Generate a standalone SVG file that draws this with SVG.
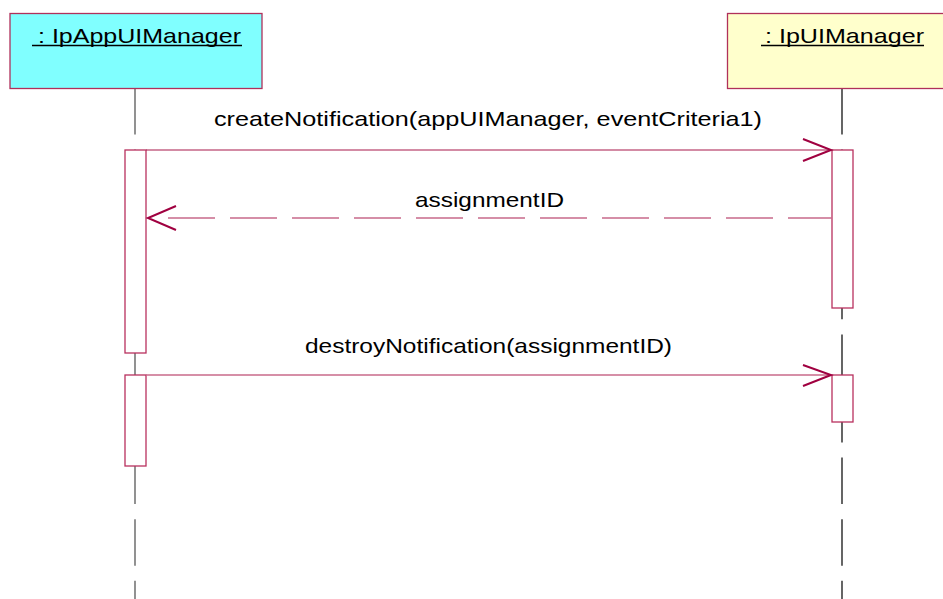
<svg xmlns="http://www.w3.org/2000/svg" width="943" height="599" viewBox="0 0 943 599">
<style>
text{font-family:"Liberation Sans",Arial,sans-serif;font-size:21px;fill:#000}
.obj{stroke:#B0305A;stroke-width:1.3}
.life{fill:none;stroke-dasharray:46.5 15.1}
.act{fill:#fff;stroke:#B8305E;stroke-width:1.3}
.msg{fill:none;stroke:#A8184A;stroke-width:1.2}
.msg2{fill:none;stroke:#C86A8A;stroke-width:1.4}
.head{fill:none;stroke:#A00040;stroke-width:2}
.ul{stroke:#000;stroke-width:1.6}
</style>
<rect width="943" height="599" fill="#fff"/>
<g id="lifelines">
<line class="life" x1="135" y1="88" x2="135" y2="599" stroke="#777" stroke-width="1.6"/>
<line class="life" x1="842" y1="88" x2="842" y2="599" stroke="#000" stroke-width="1.2"/>
</g>
<g id="IpAppUIManager">
<rect class="obj" x="10" y="13.5" width="252" height="75" fill="#80FFFF"/>
<text x="38" y="42.5" textLength="203" lengthAdjust="spacingAndGlyphs">: IpAppUIManager</text>
<line class="ul" x1="32" y1="45.5" x2="242" y2="45.5"/>
<rect class="act" x="125" y="150" width="21" height="203"/>
<rect class="act" x="125" y="375" width="21" height="91"/>
</g>
<g id="IpUIManager">
<rect class="obj" x="727.5" y="13.5" width="230" height="75" fill="#FFFFCC"/>
<text x="765" y="42.5" textLength="159" lengthAdjust="spacingAndGlyphs">: IpUIManager</text>
<line class="ul" x1="761" y1="45.5" x2="924" y2="45.5"/>
<rect class="act" x="832" y="150" width="21" height="158"/>
<rect class="act" x="832" y="375" width="21" height="47"/>
</g>
<g id="connectors">
<line class="msg" x1="146" y1="150" x2="831" y2="150"/>
<polyline class="head" points="803,139 831,150 803,161"/>
<text x="214" y="126" textLength="548" lengthAdjust="spacingAndGlyphs">createNotification(appUIManager, eventCriteria1)</text>
<line class="msg2" x1="168" y1="218" x2="832" y2="218" stroke-dasharray="47 15"/>
<polyline class="head" points="176,206 148,218 176,230"/>
<text x="415" y="206.5" textLength="149" lengthAdjust="spacingAndGlyphs">assignmentID</text>
<line class="msg2" x1="146" y1="375" x2="831" y2="375"/>
<polyline class="head" points="803,365 831,375 803,386"/>
<text x="305" y="352.5" textLength="367" lengthAdjust="spacingAndGlyphs">destroyNotification(assignmentID)</text>
</g>
</svg>
